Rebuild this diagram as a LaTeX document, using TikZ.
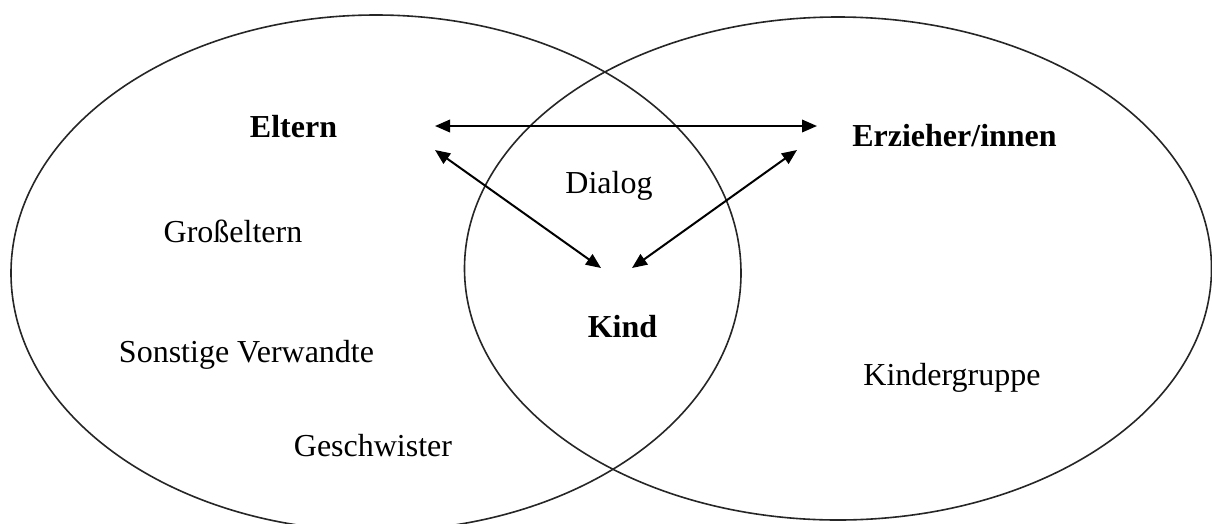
\documentclass[tikz,border=0pt]{standalone}
\usepackage{fontspec}
\setmainfont{Liberation Serif}
\usetikzlibrary{arrows.meta}
\begin{document}
\begin{tikzpicture}[x=1pt,y=-1pt,
  lbl/.style={anchor=base,inner sep=0pt,font=\fontsize{32}{36}\selectfont},
  blbl/.style={lbl,font=\fontsize{32}{36}\selectfont\bfseries},
  ring/.style={draw=black!85,line width=1.6pt},
  dlg/.style={line width=2pt,{Triangle[length=15pt,width=12.5pt]}-{Triangle[length=15pt,width=12.5pt]}}]
\useasboundingbox (0,0) rectangle (1212,523);
\fill[white] (0,0) rectangle (1212,523);
\draw[ring] (376,273) ellipse [x radius=365, y radius=258];
\draw[ring] (838,268.5) ellipse [x radius=373.5, y radius=251.5];
\node[blbl] (eltern) at (293.5,137) {Eltern};
\node[blbl] (erz) at (954.5,146) {Erzieher/innen};
\node[lbl] (dialog) at (609,193) {Dialog};
\node[lbl] (gross) at (233,242) {Großeltern};
\node[blbl] (kind) at (622.5,337) {Kind};
\node[lbl] (sonst) at (246.5,362) {Sonstige Verwandte};
\node[lbl] (gesch) at (373,456) {Geschwister};
\node[lbl] (kgr) at (952,385) {Kindergruppe};
\coordinate (eA) at (435,126);
\coordinate (zA) at (817,126);
\coordinate (eB) at (435,150);
\coordinate (kB) at (601,268);
\coordinate (zB) at (797,150);
\coordinate (kC) at (632,268);
\draw[dlg] (eA) -- (zA);
\draw[dlg] (eB) -- (kB);
\draw[dlg] (zB) -- (kC);
\end{tikzpicture}
\end{document}
